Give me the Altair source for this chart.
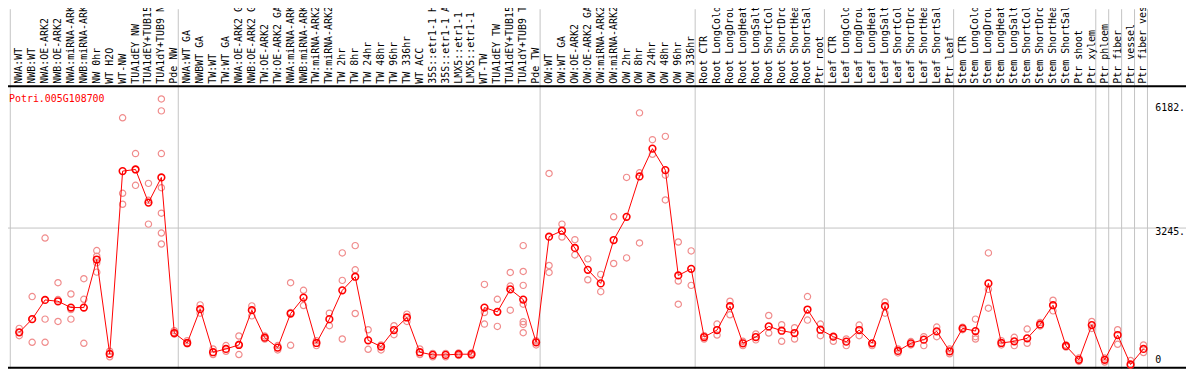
import altair as alt
import pandas as pd

labels = [
    "NWA:WT", "NWB:WT", "NWA:OE-ARK2", "NWB:OE-ARK2", "NWA:miRNA-ARK2", "NWB:miRNA-ARK2",
    "NW 0hr", "WT H2O", "WT-NW", "TUA1dEY NW", "TUA1dEY+TUB15", "TUA1dY+TUB9 NW", "Pde NW",
    "NWA:WT GA", "NWBWT GA", "TW:WT", "TW:WT GA", "NWA:OE-ARK2 GA", "NWB:OE-ARK2 GA",
    "TW:OE-ARK2", "TW:OE-ARK2 GA", "NWA:miRNA-ARK2", "NWB:miRNA-ARK2", "TW:miRNA-ARK2",
    "TW:miRNA-ARK2", "TW 2hr", "TW 8hr", "TW 24hr", "TW 48hr", "TW 96hr", "TW 336hr",
    "WT ACC", "35S::etr1-1 H2", "35S::etr1-1 AC", "LMX5::etr1-1 H", "LMX5::etr1-1 A",
    "WT-TW", "TUA1dEY TW", "TUA1dEY+TUB15", "TUA1dY+TUB9 TW", "Pde TW",
    "OW:WT", "OW:WT GA", "OW:OE-ARK2", "OW:OE-ARK2 GA", "OW:miRNA-ARK2", "OW:miRNA-ARK2",
    "OW 2hr", "OW 8hr", "OW 24hr", "OW 48hr", "OW 96hr", "OW 336hr",
    "Root CTR", "Root LongCold", "Root LongDroug", "Root LongHeat", "Root LongSalt",
    "Root ShortCold", "Root ShortDrou", "Root ShortHeat", "Root ShortSalt", "Ptr root",
    "Leaf CTR", "Leaf LongCold", "Leaf LongDroug", "Leaf LongHeat", "Leaf LongSalt",
    "Leaf ShortCold", "Leaf ShortDrou", "Leaf ShortHeat", "Leaf ShortSalt", "Ptr leaf",
    "Stem CTR", "Stem LongCold", "Stem LongDroug", "Stem LongHeat", "Stem LongSalt",
    "Stem ShortCold", "Stem ShortDrou", "Stem ShortHeat", "Stem ShortSalt", "Ptr shoot",
    "Ptr xylem", "Ptr phloem", "Ptr fiber", "Ptr vessel", "Ptr fiber vessel",
]

means = [
    777, 1090, 1544, 1513, 1364, 1364, 2500, 268, 4592, 4631, 3847, 4443, 761,
    526, 1325, 307, 385, 479, 1302, 651, 416, 1223, 1599, 526, 1090, 1772, 2093,
    589, 440, 832, 1129, 307, 244, 244, 260, 260, 1364, 1262, 1795, 1552, 542,
    3041, 3182, 2774, 2257, 1936, 2962, 3511, 4466, 5124, 4615, 2124, 2281,
    667, 832, 1396, 518, 667, 918, 816, 761, 1317, 839,
    675, 557, 832, 518, 1396, 338, 518, 605, 800, 330,
    871, 808, 1936, 526, 565, 636, 965, 1419, 456, 127, 949,
    127, 714, 17, 385,
]

replicates = [
    [871, 777, 699], [1623, 1090, 542], [3009, 1090, 542], [1952, 1552, 1035],
    [1685, 1317, 1090], [2046, 1560, 518], [2712, 2578, 2422, 2202], [330, 268, 200],
    [5853, 4067, 3808], [5007, 4631, 4255], [4302, 3901, 3338],
    [6299, 6017, 5007, 4200, 3597, 3127, 2868], [816, 761, 737],
    [581, 526, 503], [1427, 1231], [385, 252], [464, 330], [691, 494, 252],
    [1403, 1168], [690, 620], [464, 362], [1952, 1246, 471], [1772, 1411],
    [581, 464], [1231, 934], [2657, 2007, 620], [2829, 2257, 1223], [839, 377],
    [479, 362], [934, 722], [1208, 1035], [385, 252], [280, 200], [280, 200],
    [290, 230], [290, 230], [1912, 1247, 973], [1560, 1262, 918],
    [2195, 1873, 1302], [2829, 2218, 1889, 1443, 1027, 965, 769], [581, 479],
    [4537, 2359, 2195], [3338, 3033], [2970, 2610], [2516, 2022], [2148, 1740],
    [3511, 2406], [4443, 2539], [5970, 4552, 2892], [5336, 4991],
    [5414, 4498, 3910], [2915, 1991, 1443], [2704, 1889],
    [699, 620], [973, 714], [1513, 1192], [565, 464], [740, 600], [1176, 761],
    [957, 565], [886, 620], [1623, 1067], [973, 699],
    [675, 565], [620, 464], [949, 699], [518, 464], [1497, 1231], [385, 290],
    [560, 480], [675, 464], [902, 675], [385, 270],
    [900, 840], [1090, 675, 620], [2657, 1795, 1349], [581, 480], [659, 464],
    [855, 518], [1010, 930], [1537, 1286], [480, 430], [170, 90], [1035, 870],
    [170, 75], [839, 495], [111, 0], [479, 300],
]

group_starts = [0, 13, 41, 53, 63, 73, 84, 85, 86, 87, 88]
gene_name = "Potri.005G108700"
grid_values = [3245]
tick_values = [6182, 3245]
tick_texts = ["6182.", "3245."]
zero_value = [0]
zero_text = ["0"]

# ---- layout constants ----
W, H = 1186, 362
FONT = "DejaVu Sans Mono"
SEP_SHIFT = 0.692
xs = alt.Scale(domain=[-0.869, 90.29], nice=False, zero=False)
ys = alt.Scale(domain=[-84.6, 8422.4], nice=False, zero=False)

mean_df = pd.DataFrame({"idx": list(range(len(labels))), "label": labels, "value": means})
rep_rows = [{"idx": i, "value": v} for i, reps in enumerate(replicates) for v in reps]
rep_df = pd.DataFrame(rep_rows)
sep_df = pd.DataFrame({"sep": [s - SEP_SHIFT for s in group_starts]})

X = alt.X("idx:Q", scale=xs, axis=None)
Y = alt.Y("value:Q", scale=ys, axis=None)

seps = alt.Chart(sep_df).mark_rule(color="#c4c4c4", strokeWidth=1).encode(
    x=alt.X("sep:Q", scale=xs, axis=None), y=alt.value(0), y2=alt.value(H)
)
grid = alt.Chart(pd.DataFrame({"value": grid_values})).mark_rule(
    color="#c4c4c4", strokeWidth=1
).encode(y=Y, x=alt.value(0), x2=alt.value(W))

header_line = alt.Chart(pd.DataFrame({"a": [0]})).mark_rule(
    color="black", strokeWidth=2
).encode(y=alt.value(77.5), x=alt.value(0), x2=alt.value(W))
bottom_line = alt.Chart(pd.DataFrame({"a": [0]})).mark_rule(
    color="black", strokeWidth=2
).encode(y=alt.value(361), x=alt.value(0), x2=alt.value(W))

header = alt.Chart(mean_df).mark_text(
    angle=270, align="left", baseline="middle", font=FONT, fontSize=10, color="black"
).encode(x=X, y=alt.value(75), text="label:N")

reps = alt.Chart(rep_df).mark_point(
    shape="circle", filled=False, color="#f08c8c", strokeWidth=1.2, size=40, opacity=1
).encode(x=X, y=Y)

line = alt.Chart(mean_df).mark_line(color="#ff0000", strokeWidth=1).encode(x=X, y=Y)

pts = alt.Chart(mean_df).mark_point(
    shape="circle", filled=False, color="#ff0000", strokeWidth=1.6, size=45, opacity=1
).encode(x=X, y=Y)

gene = alt.Chart(pd.DataFrame({"t": [gene_name]})).mark_text(
    align="left", baseline="alphabetic", font=FONT, fontSize=10, color="#ff0000"
).encode(x=alt.value(1), y=alt.value(93), text="t:N")

ylab = alt.Chart(pd.DataFrame({"value": tick_values, "t": tick_texts})).mark_text(
    align="left", baseline="top", dy=-1, font=FONT, fontSize=10, color="black"
).encode(x=alt.value(1155), y=Y, text="t:N")

ylab0 = alt.Chart(pd.DataFrame({"value": zero_value, "t": zero_text})).mark_text(
    align="left", baseline="bottom", dy=0, font=FONT, fontSize=10, color="black"
).encode(x=alt.value(1155), y=Y, text="t:N")

chart = alt.layer(
    seps, grid, header_line, bottom_line, header, reps, line, pts, gene, ylab, ylab0
).properties(
    width=W, height=H, autosize=alt.AutoSizeParams(type="none"), padding=0,
    background="white"
).configure_view(strokeWidth=0)

chart.save("out.html", embed_options={"renderer": "svg", "actions": False})
